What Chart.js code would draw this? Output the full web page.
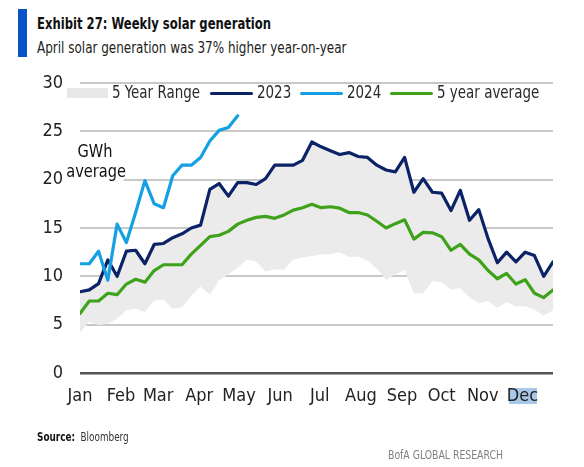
<!DOCTYPE html>
<html><head><meta charset="utf-8">
<script src="https://cdn.jsdelivr.net/npm/chart.js@4.4.1/dist/chart.umd.min.js"></script>
<style>
html,body{margin:0;padding:0;background:#fff;}
body{width:584px;height:467px;position:relative;overflow:hidden;font-family:"Liberation Sans Narrow","DejaVu Sans Condensed","Liberation Sans",sans-serif;}
.t{position:absolute;white-space:nowrap;line-height:1;transform-origin:0 0;}
#cv{position:absolute;left:0;top:0;}
.lg{position:absolute;height:3px;border-radius:2px;}
.lt{font-size:17px;color:#2a2a2a;top:84px;transform:scaleX(0.88);}
</style></head><body>
<div style="position:absolute;left:18px;top:9px;width:9px;height:48px;background:#0a52c8"></div>
<div class="t" style="left:37px;top:17px;font-size:15.5px;font-weight:bold;color:#111;transform:scaleX(0.833)">Exhibit 27: Weekly solar generation</div>
<div class="t" style="left:37px;top:41px;font-size:15.5px;color:#222;transform:scaleX(0.86)">April solar generation was 37% higher year-on-year</div>
<div style="position:absolute;left:509px;top:388px;width:28px;height:16px;background:#a9c7e8"></div>
<canvas id="cv" width="584" height="467"></canvas>
<div style="position:absolute;left:67px;top:88px;width:41px;height:10px;background:#e8e8e8"></div>
<div class="t lt" style="left:112px">5 Year Range</div>
<div class="lg" style="left:210px;top:92px;width:43px;background:#0c2266"></div>
<div class="t lt" style="left:257px">2023</div>
<div class="lg" style="left:300px;top:92px;width:43px;background:#14a0e2"></div>
<div class="t lt" style="left:347px">2024</div>
<div class="lg" style="left:390px;top:92px;width:43px;background:#3ea31a"></div>
<div class="t lt" style="left:437px">5 year average</div>
<div class="t" style="left:63px;top:141px;width:64px;text-align:center;font-size:18px;line-height:20px;color:#111;background:#fff;transform:scaleX(0.9);transform-origin:50% 0">GWh<br>average</div>
<div class="t" style="left:37px;top:431px;font-size:12px;color:#111;transform:scaleX(0.82)"><b>Source:</b>&nbsp; <span style="color:#333">Bloomberg</span></div>
<div class="t" style="left:388px;top:450px;font-size:11.5px;color:#808080;transform:scaleX(0.9)">BofA GLOBAL RESEARCH</div>
<script>
const FONT = '"Liberation Sans Narrow","DejaVu Sans Condensed","Liberation Sans",sans-serif';
const weeks = [1,2,3,4,5,6,7,8,9,10,11,12,13,14,15,16,17,18,19,20,21,22,23,24,25,26,27,28,29,30,31,32,33,34,35,36,37,38,39,40,41,42,43,44,45,46,47,48,49,50,51,52];
const monthLabels = ['Jan','Feb','Mar','Apr','May','Jun','Jul','Aug','Sep','Oct','Nov','Dec'];
const daysInMonth = [31,28,31,30,31,30,31,31,30,31,30,31];
const yTicks = [0,5,10,15,20,25,30];

const gen2023 = [8.4,8.6,9.25,11.7,10.0,12.6,12.7,11.3,13.3,13.4,14.0,14.4,15.0,15.3,19.0,19.6,18.3,19.7,19.7,19.5,20.1,21.5,21.5,21.5,22.0,23.9,23.4,23.0,22.6,22.8,22.4,22.3,21.5,21.0,20.8,22.3,18.7,20.1,18.7,18.6,16.8,18.9,15.8,16.9,13.9,11.4,12.5,11.5,12.5,12.15,10.0,11.5];
const gen2024 = [11.3,11.3,12.6,9.6,15.4,13.5,16.6,19.9,17.5,17.1,20.4,21.5,21.5,22.3,24.0,25.1,25.4,26.6];
const avg5y = [6.15,7.45,7.45,8.25,8.1,9.2,9.7,9.4,10.6,11.2,11.2,11.2,12.3,13.2,14.1,14.25,14.65,15.4,15.8,16.1,16.2,16.0,16.35,16.85,17.1,17.45,17.1,17.2,17.05,16.6,16.6,16.35,15.7,15.0,15.45,15.85,13.85,14.55,14.5,14.1,12.7,13.3,12.3,11.7,10.6,9.75,10.3,9.2,9.65,8.25,7.8,8.6];
const rangeHigh = [8.4,8.6,9.25,11.7,10.0,12.6,12.7,11.3,13.3,13.4,14.0,14.4,15.0,15.3,19.0,19.6,18.3,19.7,19.7,19.5,20.1,21.5,21.5,21.5,22.0,23.9,23.4,23.0,22.6,22.8,22.4,22.3,21.5,21.0,20.8,22.3,18.7,20.1,18.7,18.6,16.8,18.9,15.8,16.9,13.9,11.4,12.5,11.5,12.5,12.15,10.0,11.5];
const rangeLow = [4.2,5.3,4.95,5.1,5.6,6.5,6.65,6.3,7.5,7.6,6.65,6.8,8.0,8.95,8.1,9.6,10.2,10.9,11.75,11.5,10.5,10.7,10.7,11.75,11.95,12.1,12.25,12.3,12.5,12.0,12.05,11.6,10.8,9.65,10.2,10.65,8.25,8.25,9.5,9.4,8.6,8.8,7.8,7.25,7.45,6.75,7.35,6.9,6.9,6.55,5.95,6.5];

const monthStartWeeks = [];
let dayCount = 0;
for (const n of daysInMonth) { monthStartWeeks.push(1 + dayCount / 7); dayCount += n; }

const pts = arr => arr.map((v, i) => ({x: weeks[i], y: v}));
const lineDs = (label, arr, color) => ({label, data: pts(arr), borderColor: color, borderWidth: 3.2, pointRadius: 0, tension: 0, borderJoinStyle: 'round', borderCapStyle: 'round', fill: false});

new Chart(document.getElementById('cv'), {
  type: 'line',
  data: {
    datasets: [
      lineDs('2024', gen2024, '#14a0e2'),
      lineDs('2023', gen2023, '#0c2266'),
      lineDs('5 year average', avg5y, '#3ea31a'),
      {label: '5 Year Range', data: pts(rangeHigh), borderWidth: 0, borderColor: 'rgba(0,0,0,0)', backgroundColor: '#ebebeb', pointRadius: 0, tension: 0, fill: '+1'},
      {label: 'rangeLow', data: pts(rangeLow), borderWidth: 0, borderColor: 'rgba(0,0,0,0)', pointRadius: 0, tension: 0, fill: false}
    ]
  },
  options: {
    responsive: false,
    devicePixelRatio: 1,
    animation: false,
    layout: {padding: {left: 0, right: 31, top: 83, bottom: 0}},
    plugins: {legend: {display: false}, tooltip: {enabled: false}},
    scales: {
      x: {
        type: 'linear', min: 1, max: 52,
        grid: {display: false},
        border: {display: false},
        afterBuildTicks: s => { s.ticks = monthStartWeeks.map(v => ({value: v})); },
        afterFit: s => { s.height = 94; },
        ticks: {autoSkip: false, maxRotation: 0, padding: 5, color: '#222', font: {size: 18, family: FONT},
          callback: (v, i) => monthLabels[i]}
      },
      y: {
        min: 0, max: 30,
        afterBuildTicks: s => { s.ticks = yTicks.map(v => ({value: v})); },
        afterFit: s => { s.width = 80; },
        border: {display: false},
        grid: {drawTicks: false, color: c => c.tick && c.tick.value === 0 ? '#555555' : '#c8c8c8', lineWidth: c => c.tick && c.tick.value === 0 ? 2.5 : 2},
        ticks: {padding: 17, color: '#222', font: {size: 18, family: FONT}}
      }
    }
  }
});
</script>
</body></html>
